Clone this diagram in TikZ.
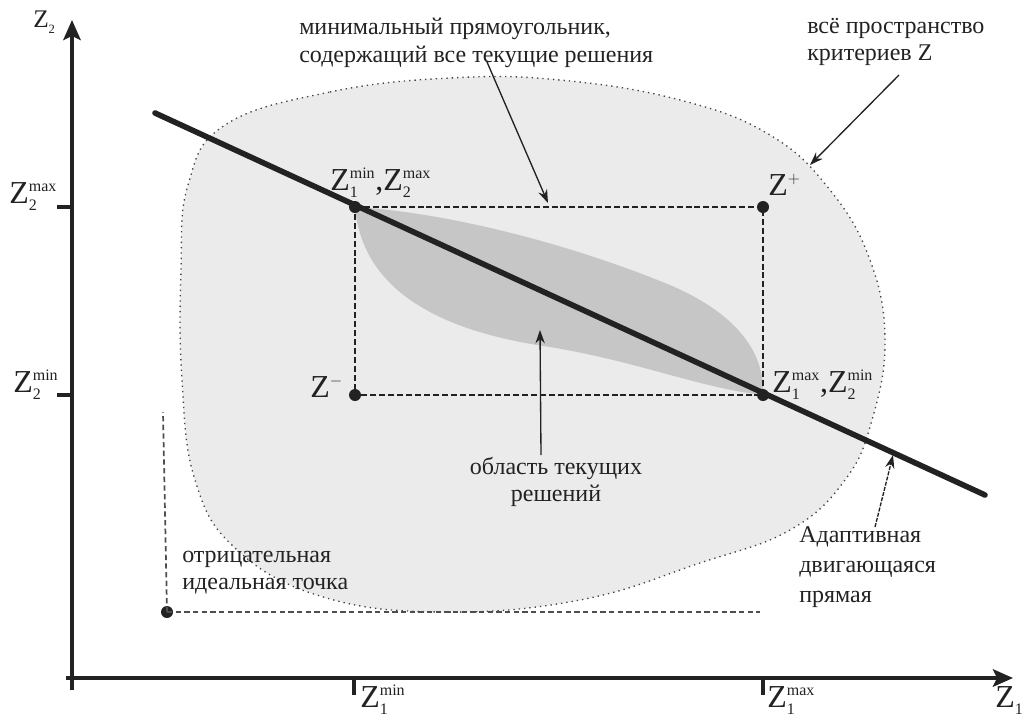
\documentclass[tikz,border=0pt]{standalone}
\usepackage{fix-cm}
\usepackage{fontspec}
\setmainfont{Liberation Serif}
\usetikzlibrary{arrows.meta}
\definecolor{ink}{HTML}{222222}
\definecolor{blobfill}{HTML}{EBEBEB}
\definecolor{innerfill}{HTML}{C6C6C6}
\newcommand\Zl[2]{$\mathrm{Z}_{\scriptscriptstyle\mathrm{#1}}^{\scriptscriptstyle\mathrm{#2}}$}
\tikzset{
  axisline/.style={draw=ink, line width=2.8pt},
  axisarrow/.style={axisline, -{Stealth[length=15pt,width=13pt,inset=3pt]}},
  tickline/.style={draw=ink, line width=2.4pt},
  rectline/.style={draw=ink, line width=2pt, dash pattern=on 4.5pt off 2.2pt},
  negline/.style={draw=ink!80, line width=1.3pt, dash pattern=on 4pt off 2.5pt},
  thickline/.style={draw=ink, line width=4.2pt, line cap=round},
  dotnode/.style={circle, fill=ink, inner sep=0pt, minimum size=9pt},
  note/.style={draw=ink, line width=1pt, -{Stealth[length=10pt,width=7pt]}},
  txt/.style={inner sep=0pt, text=ink, align=left, font=\fontsize{18}{20.5}\selectfont},
  zlab/.style={inner sep=0pt, anchor=base west, text=ink, font=\fontsize{24}{28}\selectfont},
}
\begin{document}
\begin{tikzpicture}[x=0.75pt,y=-0.75pt]
\useasboundingbox (0,0) rectangle (1024,718);
% criterion space
\path[fill=blobfill, draw=ink!85, line width=1pt, dash pattern=on 1pt off 3pt]
  plot[smooth cycle, tension=0.7] coordinates {(225,125) (330,92) (450,78) (560,80) (680,100) (770,135) (830,190) (870,260) (885,340) (872,420) (845,480) (790,530) (700,563) (580,600) (440,612) (320,596) (235,548) (195,480) (182,380) (181,270) (188,185)};
% region of current solutions
\fill[innerfill] (355,207) .. controls (440,212) and (560,240) .. (670,285)
  .. controls (740,315) and (765,355) .. (763,395)
  .. controls (700,388) and (640,362) .. (550,347)
  .. controls (430,330) and (362,285) .. (355,207);
% axes
\coordinate (Ybot) at (72,690);
\coordinate (Ytip) at (72,20);
\coordinate (Xleft) at (66,678);
\coordinate (Xtip) at (1013,678);
\draw[axisarrow] (Ybot) -- (Ytip);
\draw[axisarrow] (Xleft) -- (Xtip);
% ticks
\coordinate (ty1) at (57,207); \coordinate (ty1e) at (72,207);
\coordinate (ty2) at (57,395); \coordinate (ty2e) at (72,395);
\coordinate (tx1) at (354,679); \coordinate (tx1e) at (354,695);
\coordinate (tx2) at (763,679); \coordinate (tx2e) at (763,695);
\draw[tickline] (ty1) -- (ty1e);
\draw[tickline] (ty2) -- (ty2e);
\draw[tickline] (tx1) -- (tx1e);
\draw[tickline] (tx2) -- (tx2e);
% rectangle corners
\node[dotnode] (P1) at (355,207) {};
\node[dotnode] (P2) at (763,207) {};
\node[dotnode] (P3) at (355,395) {};
\node[dotnode] (P4) at (763,395) {};
\draw[rectline] (P1.center) -- (P2.center) -- (P4.center) -- (P3.center) -- cycle;
% negative ideal point
\node[dotnode] (N) at (167,612) {};
\coordinate (Nup) at (163,412);
\coordinate (Nright) at (760,612);
\draw[negline] (N.center) -- (Nup);
\draw[negline] (N.center) -- (Nright);
% adaptive line
\coordinate (LA) at (155,113);
\coordinate (LB) at (985,495);
\draw[thickline] (LA) -- (LB);
% labels of axes
\node[zlab, font=\fontsize{19}{22}\selectfont] (zy) at (33,27) {\Zl{2}{}};
\node[zlab] (zymax) at (9,203) {\Zl{2}{max}};
\node[zlab] (zymin) at (13,392) {\Zl{2}{min}};
\node[zlab] (zxmin) at (360,707) {\Zl{1}{min}};
\node[zlab] (zxmax) at (767,707) {\Zl{1}{max}};
\node[zlab] (zx) at (995,707) {\Zl{1}{}};
\node[zlab] (lP1) at (330,190) {\Zl{1}{min},\Zl{2}{max}};
\node[zlab] (lP2) at (768,195) {$\mathrm{Z}^{\scriptscriptstyle +}$};
\node[zlab] (lP3) at (310,397) {$\mathrm{Z}^{\scriptscriptstyle -}$};
\node[zlab] (lP4) at (772,392) {\Zl{1}{max},\Zl{2}{min}};
% text labels
\node[txt, anchor=north west] (tRect) at (299,18) {минимальный прямоугольник,\\содержащий все текущие решения};
\node[txt, anchor=north west] (tSpace) at (807,18) {всё пространство\\критериев Z};
\node[txt, align=center] (tRegion) at (556,482) {область текущих\\решений};
\node[txt, anchor=north west] (tNeg) at (182,551) {отрицательная\\идеальная точка};
\node[txt, anchor=north west, font=\fontsize{18}{22.5}\selectfont] (tAdapt) at (799,526) {Адаптивная\\двигающаяся\\прямая};
% annotation arrows
\coordinate (sRect) at (487,62);   \coordinate (aRect) at (548,203);
\coordinate (sSpace) at (899,75);  \coordinate (aSpace) at (810,165);
\coordinate (sRegion) at (541,455); \coordinate (aRegion) at (540,330);
\coordinate (sAdapt) at (875,527); \coordinate (aAdapt) at (893,455);
\draw[note] (sRect) -- (aRect);
\draw[note] (sSpace) -- (aSpace);
\draw[note] (sRegion) -- (aRegion);
\draw[note, dash pattern=on 3pt off 1pt] (sAdapt) -- (aAdapt);
\end{tikzpicture}
\end{document}
